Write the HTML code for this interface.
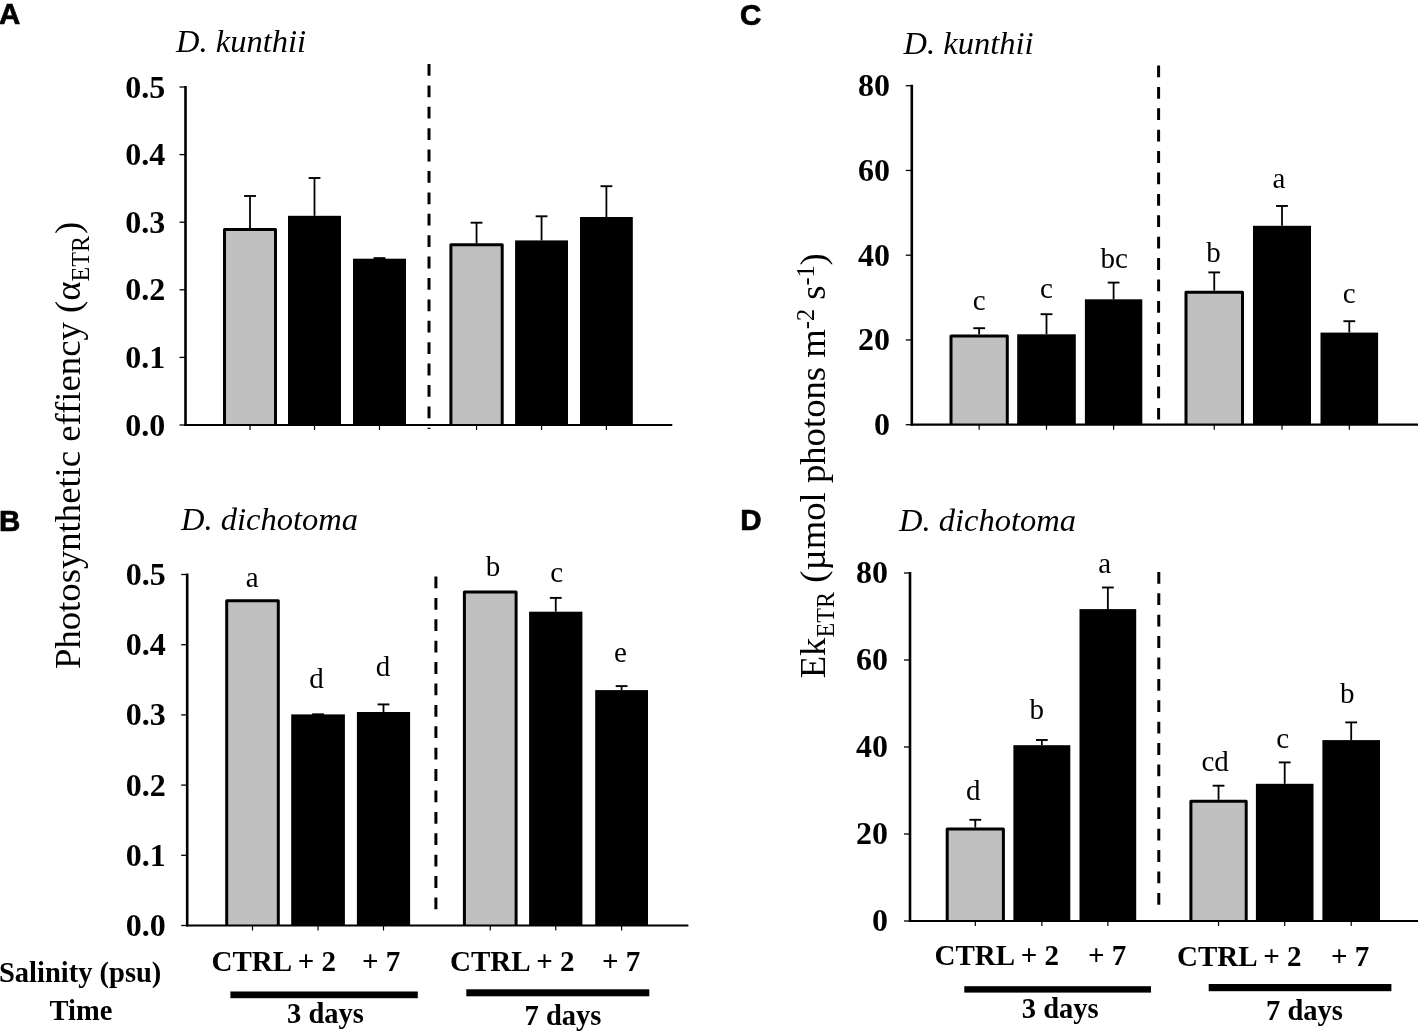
<!DOCTYPE html>
<html><head><meta charset="utf-8"><title>Figure</title>
<style>html,body{margin:0;padding:0;background:#fff;} body{width:1418px;height:1031px;overflow:hidden;} svg{display:block;will-change:transform;}</style>
</head><body>
<svg width="1418" height="1031" viewBox="0 0 1418 1031"><line x1="185.5" y1="86" x2="185.5" y2="426" stroke="#000" stroke-width="2.6" />
<line x1="179.5" y1="425.0" x2="185.5" y2="425.0" stroke="#000" stroke-width="1.3" />
<text x="165.3" y="435.5" font-family='"Liberation Serif", serif' font-size="32" font-weight="bold" font-style="normal" text-anchor="end" >0.0</text>
<line x1="179.5" y1="357.4" x2="185.5" y2="357.4" stroke="#000" stroke-width="1.3" />
<text x="165.3" y="367.9" font-family='"Liberation Serif", serif' font-size="32" font-weight="bold" font-style="normal" text-anchor="end" >0.1</text>
<line x1="179.5" y1="289.8" x2="185.5" y2="289.8" stroke="#000" stroke-width="1.3" />
<text x="165.3" y="300.3" font-family='"Liberation Serif", serif' font-size="32" font-weight="bold" font-style="normal" text-anchor="end" >0.2</text>
<line x1="179.5" y1="222.2" x2="185.5" y2="222.2" stroke="#000" stroke-width="1.3" />
<text x="165.3" y="232.7" font-family='"Liberation Serif", serif' font-size="32" font-weight="bold" font-style="normal" text-anchor="end" >0.3</text>
<line x1="179.5" y1="154.60000000000002" x2="185.5" y2="154.60000000000002" stroke="#000" stroke-width="1.3" />
<text x="165.3" y="165.10000000000002" font-family='"Liberation Serif", serif' font-size="32" font-weight="bold" font-style="normal" text-anchor="end" >0.4</text>
<line x1="179.5" y1="87.0" x2="185.5" y2="87.0" stroke="#000" stroke-width="1.3" />
<text x="165.3" y="97.5" font-family='"Liberation Serif", serif' font-size="32" font-weight="bold" font-style="normal" text-anchor="end" >0.5</text>
<line x1="429" y1="64" x2="429" y2="429" stroke="#000" stroke-width="3" stroke-dasharray="11.8 9.6"/>
<line x1="250.0" y1="196" x2="250.0" y2="228" stroke="#000" stroke-width="1.8" />
<line x1="244.1" y1="196" x2="255.9" y2="196" stroke="#000" stroke-width="1.9" />
<path d="M224.5,425 V229.5 H275.5 V425 Z" fill="#c0c0c0" stroke="none"/>
<path d="M224.5,425 V229.5 H275.5 V425" fill="none" stroke="#000" stroke-width="3" stroke-linejoin="round"/>
<line x1="250.0" y1="425" x2="250.0" y2="430" stroke="#000" stroke-width="1.2" />
<line x1="314.5" y1="178" x2="314.5" y2="215.8" stroke="#000" stroke-width="1.8" />
<line x1="308.6" y1="178" x2="320.4" y2="178" stroke="#000" stroke-width="1.9" />
<rect x="288" y="215.8" width="53" height="209.2" fill="#000"/>
<line x1="314.5" y1="425" x2="314.5" y2="430" stroke="#000" stroke-width="1.2" />
<line x1="373.6" y1="258.1" x2="385.4" y2="258.1" stroke="#000" stroke-width="1.9" />
<rect x="353" y="258.7" width="53" height="166.3" fill="#000"/>
<line x1="379.5" y1="425" x2="379.5" y2="430" stroke="#000" stroke-width="1.2" />
<line x1="476.54999999999995" y1="222.7" x2="476.54999999999995" y2="243.3" stroke="#000" stroke-width="1.8" />
<line x1="470.65" y1="222.7" x2="482.44999999999993" y2="222.7" stroke="#000" stroke-width="1.9" />
<path d="M450.9,425 V244.8 H502.2 V425 Z" fill="#c0c0c0" stroke="none"/>
<path d="M450.9,425 V244.8 H502.2 V425" fill="none" stroke="#000" stroke-width="3" stroke-linejoin="round"/>
<line x1="476.54999999999995" y1="425" x2="476.54999999999995" y2="430" stroke="#000" stroke-width="1.2" />
<line x1="541.55" y1="216.3" x2="541.55" y2="240.4" stroke="#000" stroke-width="1.8" />
<line x1="535.65" y1="216.3" x2="547.4499999999999" y2="216.3" stroke="#000" stroke-width="1.9" />
<rect x="515.1" y="240.4" width="52.89999999999998" height="184.6" fill="#000"/>
<line x1="541.55" y1="425" x2="541.55" y2="430" stroke="#000" stroke-width="1.2" />
<line x1="606.4" y1="186.2" x2="606.4" y2="217" stroke="#000" stroke-width="1.8" />
<line x1="600.5" y1="186.2" x2="612.3" y2="186.2" stroke="#000" stroke-width="1.9" />
<rect x="580" y="217" width="52.799999999999955" height="208" fill="#000"/>
<line x1="606.4" y1="425" x2="606.4" y2="430" stroke="#000" stroke-width="1.2" />
<line x1="184.5" y1="425" x2="672.3" y2="425" stroke="#000" stroke-width="2.2" />
<text x="176" y="51.5" font-family='"Liberation Serif", serif' font-size="32.5" font-weight="normal" font-style="italic" text-anchor="start" >D. kunthii</text>
<text x="-1" y="24.4" font-family='"Liberation Sans", sans-serif' font-size="29.5" font-weight="bold" font-style="normal" text-anchor="start" stroke="#000" stroke-width="0.7">A</text>
<line x1="187.2" y1="573.5" x2="187.2" y2="926.5" stroke="#000" stroke-width="2.6" />
<line x1="181.2" y1="925.5" x2="187.2" y2="925.5" stroke="#000" stroke-width="1.3" />
<text x="165.7" y="936.0" font-family='"Liberation Serif", serif' font-size="32" font-weight="bold" font-style="normal" text-anchor="end" >0.0</text>
<line x1="181.2" y1="855.3" x2="187.2" y2="855.3" stroke="#000" stroke-width="1.3" />
<text x="165.7" y="865.8" font-family='"Liberation Serif", serif' font-size="32" font-weight="bold" font-style="normal" text-anchor="end" >0.1</text>
<line x1="181.2" y1="785.1" x2="187.2" y2="785.1" stroke="#000" stroke-width="1.3" />
<text x="165.7" y="795.6" font-family='"Liberation Serif", serif' font-size="32" font-weight="bold" font-style="normal" text-anchor="end" >0.2</text>
<line x1="181.2" y1="714.9" x2="187.2" y2="714.9" stroke="#000" stroke-width="1.3" />
<text x="165.7" y="725.4" font-family='"Liberation Serif", serif' font-size="32" font-weight="bold" font-style="normal" text-anchor="end" >0.3</text>
<line x1="181.2" y1="644.7" x2="187.2" y2="644.7" stroke="#000" stroke-width="1.3" />
<text x="165.7" y="655.2" font-family='"Liberation Serif", serif' font-size="32" font-weight="bold" font-style="normal" text-anchor="end" >0.4</text>
<line x1="181.2" y1="574.5" x2="187.2" y2="574.5" stroke="#000" stroke-width="1.3" />
<text x="165.7" y="585.0" font-family='"Liberation Serif", serif' font-size="32" font-weight="bold" font-style="normal" text-anchor="end" >0.5</text>
<line x1="435.9" y1="576.5" x2="435.9" y2="910" stroke="#000" stroke-width="3" stroke-dasharray="11.8 9.6"/>
<path d="M226.7,925.5 V600.8 H278.3 V925.5 Z" fill="#c0c0c0" stroke="none"/>
<path d="M226.7,925.5 V600.8 H278.3 V925.5" fill="none" stroke="#000" stroke-width="3" stroke-linejoin="round"/>
<line x1="252.5" y1="925.5" x2="252.5" y2="930.5" stroke="#000" stroke-width="1.2" />
<line x1="312.15" y1="714.3" x2="323.94999999999993" y2="714.3" stroke="#000" stroke-width="1.9" />
<rect x="291.2" y="714.4" width="53.69999999999999" height="211.10000000000002" fill="#000"/>
<line x1="318.04999999999995" y1="925.5" x2="318.04999999999995" y2="930.5" stroke="#000" stroke-width="1.2" />
<line x1="383.5" y1="704.4" x2="383.5" y2="712" stroke="#000" stroke-width="1.8" />
<line x1="377.6" y1="704.4" x2="389.4" y2="704.4" stroke="#000" stroke-width="1.9" />
<rect x="356.9" y="712" width="53.200000000000045" height="213.5" fill="#000"/>
<line x1="383.5" y1="925.5" x2="383.5" y2="930.5" stroke="#000" stroke-width="1.2" />
<path d="M464.4,925.5 V591.9 H516.1 V925.5 Z" fill="#c0c0c0" stroke="none"/>
<path d="M464.4,925.5 V591.9 H516.1 V925.5" fill="none" stroke="#000" stroke-width="3" stroke-linejoin="round"/>
<line x1="490.25" y1="925.5" x2="490.25" y2="930.5" stroke="#000" stroke-width="1.2" />
<line x1="555.75" y1="597.9" x2="555.75" y2="611.7" stroke="#000" stroke-width="1.8" />
<line x1="549.85" y1="597.9" x2="561.65" y2="597.9" stroke="#000" stroke-width="1.9" />
<rect x="529.1" y="611.7" width="53.299999999999955" height="313.79999999999995" fill="#000"/>
<line x1="555.75" y1="925.5" x2="555.75" y2="930.5" stroke="#000" stroke-width="1.2" />
<line x1="621.6" y1="686.1" x2="621.6" y2="690.1" stroke="#000" stroke-width="1.8" />
<line x1="615.7" y1="686.1" x2="627.5" y2="686.1" stroke="#000" stroke-width="1.9" />
<rect x="595.2" y="690.1" width="52.799999999999955" height="235.39999999999998" fill="#000"/>
<line x1="621.6" y1="925.5" x2="621.6" y2="930.5" stroke="#000" stroke-width="1.2" />
<line x1="186.2" y1="925.5" x2="688.4" y2="925.5" stroke="#000" stroke-width="2.2" />
<text x="252.2" y="587" font-family='"Liberation Serif", serif' font-size="29" font-weight="normal" font-style="normal" text-anchor="middle" >a</text>
<text x="316.6" y="687.7" font-family='"Liberation Serif", serif' font-size="29" font-weight="normal" font-style="normal" text-anchor="middle" >d</text>
<text x="383" y="676.2" font-family='"Liberation Serif", serif' font-size="29" font-weight="normal" font-style="normal" text-anchor="middle" >d</text>
<text x="493" y="575.9" font-family='"Liberation Serif", serif' font-size="29" font-weight="normal" font-style="normal" text-anchor="middle" >b</text>
<text x="556.6" y="581.5" font-family='"Liberation Serif", serif' font-size="29" font-weight="normal" font-style="normal" text-anchor="middle" >c</text>
<text x="620.5" y="662.4" font-family='"Liberation Serif", serif' font-size="29" font-weight="normal" font-style="normal" text-anchor="middle" >e</text>
<text x="181" y="530.1" font-family='"Liberation Serif", serif' font-size="32.5" font-weight="normal" font-style="italic" text-anchor="start" >D. dichotoma</text>
<text x="-1" y="530.8" font-family='"Liberation Sans", sans-serif' font-size="29.5" font-weight="bold" font-style="normal" text-anchor="start" stroke="#000" stroke-width="0.7">B</text>
<line x1="911.8" y1="84.7" x2="911.8" y2="425.7" stroke="#000" stroke-width="2.6" />
<line x1="905.8" y1="424.7" x2="911.8" y2="424.7" stroke="#000" stroke-width="1.3" />
<text x="890" y="435.2" font-family='"Liberation Serif", serif' font-size="32" font-weight="bold" font-style="normal" text-anchor="end" >0</text>
<line x1="905.8" y1="339.95" x2="911.8" y2="339.95" stroke="#000" stroke-width="1.3" />
<text x="890" y="350.45" font-family='"Liberation Serif", serif' font-size="32" font-weight="bold" font-style="normal" text-anchor="end" >20</text>
<line x1="905.8" y1="255.2" x2="911.8" y2="255.2" stroke="#000" stroke-width="1.3" />
<text x="890" y="265.7" font-family='"Liberation Serif", serif' font-size="32" font-weight="bold" font-style="normal" text-anchor="end" >40</text>
<line x1="905.8" y1="170.45" x2="911.8" y2="170.45" stroke="#000" stroke-width="1.3" />
<text x="890" y="180.95" font-family='"Liberation Serif", serif' font-size="32" font-weight="bold" font-style="normal" text-anchor="end" >60</text>
<line x1="905.8" y1="85.69999999999999" x2="911.8" y2="85.69999999999999" stroke="#000" stroke-width="1.3" />
<text x="890" y="96.19999999999999" font-family='"Liberation Serif", serif' font-size="32" font-weight="bold" font-style="normal" text-anchor="end" >80</text>
<line x1="1158.6" y1="65.5" x2="1158.6" y2="419.5" stroke="#000" stroke-width="3" stroke-dasharray="11.8 9.6"/>
<line x1="979.15" y1="328.2" x2="979.15" y2="334.5" stroke="#000" stroke-width="1.8" />
<line x1="973.25" y1="328.2" x2="985.05" y2="328.2" stroke="#000" stroke-width="1.9" />
<path d="M951.0,424.7 V336.0 H1007.3 V424.7 Z" fill="#c0c0c0" stroke="none"/>
<path d="M951.0,424.7 V336.0 H1007.3 V424.7" fill="none" stroke="#000" stroke-width="3" stroke-linejoin="round"/>
<line x1="979.15" y1="424.7" x2="979.15" y2="429.7" stroke="#000" stroke-width="1.2" />
<line x1="1046.5" y1="314.2" x2="1046.5" y2="334.3" stroke="#000" stroke-width="1.8" />
<line x1="1040.6" y1="314.2" x2="1052.4" y2="314.2" stroke="#000" stroke-width="1.9" />
<rect x="1017.2" y="334.3" width="58.59999999999991" height="90.39999999999998" fill="#000"/>
<line x1="1046.5" y1="424.7" x2="1046.5" y2="429.7" stroke="#000" stroke-width="1.2" />
<line x1="1113.6" y1="282.6" x2="1113.6" y2="299.3" stroke="#000" stroke-width="1.8" />
<line x1="1107.6999999999998" y1="282.6" x2="1119.5" y2="282.6" stroke="#000" stroke-width="1.9" />
<rect x="1084.9" y="299.3" width="57.399999999999864" height="125.39999999999998" fill="#000"/>
<line x1="1113.6" y1="424.7" x2="1113.6" y2="429.7" stroke="#000" stroke-width="1.2" />
<line x1="1214.25" y1="272.4" x2="1214.25" y2="290.7" stroke="#000" stroke-width="1.8" />
<line x1="1208.35" y1="272.4" x2="1220.15" y2="272.4" stroke="#000" stroke-width="1.9" />
<path d="M1186.0,424.7 V292.2 H1242.5 V424.7 Z" fill="#c0c0c0" stroke="none"/>
<path d="M1186.0,424.7 V292.2 H1242.5 V424.7" fill="none" stroke="#000" stroke-width="3" stroke-linejoin="round"/>
<line x1="1214.25" y1="424.7" x2="1214.25" y2="429.7" stroke="#000" stroke-width="1.2" />
<line x1="1282.0" y1="206" x2="1282.0" y2="225.8" stroke="#000" stroke-width="1.8" />
<line x1="1276.1" y1="206" x2="1287.9" y2="206" stroke="#000" stroke-width="1.9" />
<rect x="1253" y="225.8" width="58" height="198.89999999999998" fill="#000"/>
<line x1="1282.0" y1="424.7" x2="1282.0" y2="429.7" stroke="#000" stroke-width="1.2" />
<line x1="1349.3" y1="321.2" x2="1349.3" y2="332.6" stroke="#000" stroke-width="1.8" />
<line x1="1343.3999999999999" y1="321.2" x2="1355.2" y2="321.2" stroke="#000" stroke-width="1.9" />
<rect x="1320.5" y="332.6" width="57.59999999999991" height="92.09999999999997" fill="#000"/>
<line x1="1349.3" y1="424.7" x2="1349.3" y2="429.7" stroke="#000" stroke-width="1.2" />
<line x1="910.8" y1="424.7" x2="1418" y2="424.7" stroke="#000" stroke-width="2.2" />
<text x="979.3" y="310.1" font-family='"Liberation Serif", serif' font-size="29" font-weight="normal" font-style="normal" text-anchor="middle" >c</text>
<text x="1046.5" y="297.7" font-family='"Liberation Serif", serif' font-size="29" font-weight="normal" font-style="normal" text-anchor="middle" >c</text>
<text x="1114.2" y="268.4" font-family='"Liberation Serif", serif' font-size="29" font-weight="normal" font-style="normal" text-anchor="middle" >bc</text>
<text x="1213.6" y="262.2" font-family='"Liberation Serif", serif' font-size="29" font-weight="normal" font-style="normal" text-anchor="middle" >b</text>
<text x="1279" y="188" font-family='"Liberation Serif", serif' font-size="29" font-weight="normal" font-style="normal" text-anchor="middle" >a</text>
<text x="1349.3" y="302.9" font-family='"Liberation Serif", serif' font-size="29" font-weight="normal" font-style="normal" text-anchor="middle" >c</text>
<text x="903.5" y="54.2" font-family='"Liberation Serif", serif' font-size="32.5" font-weight="normal" font-style="italic" text-anchor="start" >D. kunthii</text>
<text x="740" y="24.6" font-family='"Liberation Sans", sans-serif' font-size="29.5" font-weight="bold" font-style="normal" text-anchor="start" stroke="#000" stroke-width="0.7">C</text>
<line x1="910" y1="572" x2="910" y2="922" stroke="#000" stroke-width="2.6" />
<line x1="904" y1="921.0" x2="910" y2="921.0" stroke="#000" stroke-width="1.3" />
<text x="888" y="931.0" font-family='"Liberation Serif", serif' font-size="32" font-weight="bold" font-style="normal" text-anchor="end" >0</text>
<line x1="904" y1="834.0" x2="910" y2="834.0" stroke="#000" stroke-width="1.3" />
<text x="888" y="844.0" font-family='"Liberation Serif", serif' font-size="32" font-weight="bold" font-style="normal" text-anchor="end" >20</text>
<line x1="904" y1="747.0" x2="910" y2="747.0" stroke="#000" stroke-width="1.3" />
<text x="888" y="757.0" font-family='"Liberation Serif", serif' font-size="32" font-weight="bold" font-style="normal" text-anchor="end" >40</text>
<line x1="904" y1="660.0" x2="910" y2="660.0" stroke="#000" stroke-width="1.3" />
<text x="888" y="670.0" font-family='"Liberation Serif", serif' font-size="32" font-weight="bold" font-style="normal" text-anchor="end" >60</text>
<line x1="904" y1="573.0" x2="910" y2="573.0" stroke="#000" stroke-width="1.3" />
<text x="888" y="583.0" font-family='"Liberation Serif", serif' font-size="32" font-weight="bold" font-style="normal" text-anchor="end" >80</text>
<line x1="1158.8" y1="571.9" x2="1158.8" y2="905" stroke="#000" stroke-width="3" stroke-dasharray="11.8 9.6"/>
<line x1="975.3" y1="819.8" x2="975.3" y2="827.6" stroke="#000" stroke-width="1.8" />
<line x1="969.4" y1="819.8" x2="981.1999999999999" y2="819.8" stroke="#000" stroke-width="1.9" />
<path d="M947.2,921 V829.1 H1003.4 V921 Z" fill="#c0c0c0" stroke="none"/>
<path d="M947.2,921 V829.1 H1003.4 V921" fill="none" stroke="#000" stroke-width="3" stroke-linejoin="round"/>
<line x1="975.3" y1="921" x2="975.3" y2="926" stroke="#000" stroke-width="1.2" />
<line x1="1041.85" y1="740" x2="1041.85" y2="745.2" stroke="#000" stroke-width="1.8" />
<line x1="1035.9499999999998" y1="740" x2="1047.75" y2="740" stroke="#000" stroke-width="1.9" />
<rect x="1013.4" y="745.2" width="56.89999999999998" height="175.79999999999995" fill="#000"/>
<line x1="1041.85" y1="921" x2="1041.85" y2="926" stroke="#000" stroke-width="1.2" />
<line x1="1107.85" y1="587.5" x2="1107.85" y2="609.1" stroke="#000" stroke-width="1.8" />
<line x1="1101.9499999999998" y1="587.5" x2="1113.75" y2="587.5" stroke="#000" stroke-width="1.9" />
<rect x="1079.5" y="609.1" width="56.700000000000045" height="311.9" fill="#000"/>
<line x1="1107.85" y1="921" x2="1107.85" y2="926" stroke="#000" stroke-width="1.2" />
<line x1="1218.5500000000002" y1="785.7" x2="1218.5500000000002" y2="799.8" stroke="#000" stroke-width="1.8" />
<line x1="1212.65" y1="785.7" x2="1224.4500000000003" y2="785.7" stroke="#000" stroke-width="1.9" />
<path d="M1190.9,921 V801.3 H1246.2 V921 Z" fill="#c0c0c0" stroke="none"/>
<path d="M1190.9,921 V801.3 H1246.2 V921" fill="none" stroke="#000" stroke-width="3" stroke-linejoin="round"/>
<line x1="1218.5500000000002" y1="921" x2="1218.5500000000002" y2="926" stroke="#000" stroke-width="1.2" />
<line x1="1284.7" y1="762.4" x2="1284.7" y2="783.8" stroke="#000" stroke-width="1.8" />
<line x1="1278.8" y1="762.4" x2="1290.6000000000001" y2="762.4" stroke="#000" stroke-width="1.9" />
<rect x="1255.9" y="783.8" width="57.59999999999991" height="137.20000000000005" fill="#000"/>
<line x1="1284.7" y1="921" x2="1284.7" y2="926" stroke="#000" stroke-width="1.2" />
<line x1="1351.2" y1="722.4" x2="1351.2" y2="740.1" stroke="#000" stroke-width="1.8" />
<line x1="1345.3" y1="722.4" x2="1357.1000000000001" y2="722.4" stroke="#000" stroke-width="1.9" />
<rect x="1322.4" y="740.1" width="57.59999999999991" height="180.89999999999998" fill="#000"/>
<line x1="1351.2" y1="921" x2="1351.2" y2="926" stroke="#000" stroke-width="1.2" />
<line x1="909" y1="921" x2="1418" y2="921" stroke="#000" stroke-width="2.2" />
<text x="973.2" y="800.1" font-family='"Liberation Serif", serif' font-size="29" font-weight="normal" font-style="normal" text-anchor="middle" >d</text>
<text x="1036.8" y="719.3" font-family='"Liberation Serif", serif' font-size="29" font-weight="normal" font-style="normal" text-anchor="middle" >b</text>
<text x="1104.8" y="573.4" font-family='"Liberation Serif", serif' font-size="29" font-weight="normal" font-style="normal" text-anchor="middle" >a</text>
<text x="1215.2" y="771.3" font-family='"Liberation Serif", serif' font-size="29" font-weight="normal" font-style="normal" text-anchor="middle" >cd</text>
<text x="1282.6" y="748.2" font-family='"Liberation Serif", serif' font-size="29" font-weight="normal" font-style="normal" text-anchor="middle" >c</text>
<text x="1347.2" y="703.4" font-family='"Liberation Serif", serif' font-size="29" font-weight="normal" font-style="normal" text-anchor="middle" >b</text>
<text x="899" y="530.7" font-family='"Liberation Serif", serif' font-size="32.5" font-weight="normal" font-style="italic" text-anchor="start" >D. dichotoma</text>
<text x="740.2" y="530.3" font-family='"Liberation Sans", sans-serif' font-size="29.5" font-weight="bold" font-style="normal" text-anchor="start" stroke="#000" stroke-width="0.7">D</text>
<text x="211.5" y="970.5" font-family='"Liberation Serif", serif' font-size="29" font-weight="bold" font-style="normal" text-anchor="start" >CTRL + 2</text>
<text x="362" y="970.5" font-family='"Liberation Serif", serif' font-size="29" font-weight="bold" font-style="normal" text-anchor="start" >+ 7</text>
<rect x="230.4" y="991.5" width="187.4" height="6.7000000000000455" fill="#000"/>
<text x="287" y="1022.5" font-family='"Liberation Serif", serif' font-size="28.5" font-weight="bold" font-style="normal" text-anchor="start" >3 days</text>
<text x="450" y="970.6" font-family='"Liberation Serif", serif' font-size="29" font-weight="bold" font-style="normal" text-anchor="start" >CTRL + 2</text>
<text x="602" y="970.6" font-family='"Liberation Serif", serif' font-size="29" font-weight="bold" font-style="normal" text-anchor="start" >+ 7</text>
<rect x="466.3" y="989.3" width="182.99999999999994" height="7.0" fill="#000"/>
<text x="524.5" y="1024.9" font-family='"Liberation Serif", serif' font-size="28.5" font-weight="bold" font-style="normal" text-anchor="start" >7 days</text>
<text x="934.5" y="965.2" font-family='"Liberation Serif", serif' font-size="29" font-weight="bold" font-style="normal" text-anchor="start" >CTRL + 2</text>
<text x="1088" y="965.2" font-family='"Liberation Serif", serif' font-size="29" font-weight="bold" font-style="normal" text-anchor="start" >+ 7</text>
<rect x="964.3" y="986.2" width="186.70000000000005" height="6.399999999999977" fill="#000"/>
<text x="1021.8" y="1018.4" font-family='"Liberation Serif", serif' font-size="28.5" font-weight="bold" font-style="normal" text-anchor="start" >3 days</text>
<text x="1177" y="965.5" font-family='"Liberation Serif", serif' font-size="29" font-weight="bold" font-style="normal" text-anchor="start" >CTRL + 2</text>
<text x="1331" y="965.5" font-family='"Liberation Serif", serif' font-size="29" font-weight="bold" font-style="normal" text-anchor="start" >+ 7</text>
<rect x="1208.7" y="984" width="182.70000000000005" height="7.2000000000000455" fill="#000"/>
<text x="1266" y="1019.7" font-family='"Liberation Serif", serif' font-size="28.5" font-weight="bold" font-style="normal" text-anchor="start" >7 days</text>
<text x="-1" y="981.8" font-family='"Liberation Serif", serif' font-size="28.5" font-weight="bold" font-style="normal" text-anchor="start" >Salinity (psu)</text>
<text x="49.5" y="1020" font-family='"Liberation Serif", serif' font-size="28.5" font-weight="bold" font-style="normal" text-anchor="start" >Time</text>
<text transform="translate(80.3,669) rotate(-90)" font-family='"Liberation Serif", serif' font-size="36.7">Photosynthetic effiency (<tspan dx="0">α</tspan><tspan font-size="24.2" dx="0" dy="8.8">ETR</tspan><tspan dx="2" dy="-8.8">)</tspan></text>
<text transform="translate(825,678.3) rotate(-90)" font-family='"Liberation Serif", serif' font-size="36.7">Ek<tspan font-size="24.2" dy="8.8">ETR</tspan><tspan dy="-8.8"> (µmol photons m</tspan><tspan font-size="24.2" dy="-10.8">-2</tspan><tspan dy="10.8"> s</tspan><tspan font-size="24.2" dy="-10.8">-1</tspan><tspan dy="10.8">)</tspan></text></svg>
</body></html>
